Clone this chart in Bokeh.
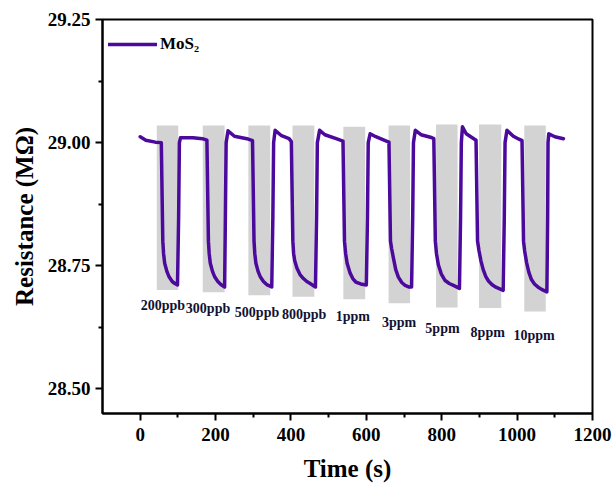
from bokeh.plotting import figure
from bokeh.models import FixedTicker, Range1d, Legend, LegendItem, NumeralTickFormatter
from bokeh.core.properties import value
from bokeh.embed import file_html
from bokeh.resources import INLINE

# ---- data ----
time_s = [0, 15, 40,
          56, 60, 62, 65, 71, 77, 85, 92, 99, 102, 104, 107, 140, 165,
          177, 181, 183, 186, 192, 198, 206, 214, 224, 226, 228, 233, 250, 283,
          298, 302, 304, 307, 313, 319, 327, 337, 349, 352, 354, 358, 375, 395,
          401, 405, 407, 410, 416, 424, 433, 442, 451, 465, 468, 470, 476, 490, 520,
          538, 542, 545, 549, 557, 564, 572, 585, 600, 603, 605, 610, 625, 650,
          660, 664, 667, 672, 678, 685, 694, 703, 712, 720, 723, 725, 730, 745, 770,
          779, 783, 786, 791, 799, 809, 820, 831, 847, 850, 852, 855, 865, 885,
          891, 895, 899, 904, 910, 917, 924, 933, 942, 963, 966, 968, 973, 990, 1005,
          1013, 1017, 1020, 1025, 1031, 1038, 1046, 1055, 1065, 1079, 1081, 1082, 1084, 1100, 1123]
resistance = [29.012, 29.005, 29.001,
              29.000, 28.800, 28.775, 28.755, 28.738, 28.727, 28.718, 28.714, 28.711, 28.850, 29.000, 29.010, 29.010, 29.008,
              29.005, 28.800, 28.775, 28.755, 28.738, 28.727, 28.718, 28.712, 28.707, 28.850, 29.000, 29.024, 29.013, 29.008,
              29.004, 28.800, 28.775, 28.755, 28.738, 28.727, 28.718, 28.711, 28.707, 28.850, 29.000, 29.025, 29.014, 29.008,
              29.002, 28.800, 28.775, 28.760, 28.745, 28.732, 28.724, 28.718, 28.714, 28.707, 28.850, 29.000, 29.025, 29.016, 29.008,
              29.003, 28.800, 28.775, 28.755, 28.735, 28.724, 28.717, 28.713, 28.711, 28.850, 29.000, 29.018, 29.012, 29.004,
              29.001, 28.800, 28.785, 28.765, 28.742, 28.727, 28.716, 28.710, 28.707, 28.707, 28.850, 29.000, 29.025, 29.016, 29.011,
              29.008, 28.800, 28.775, 28.752, 28.733, 28.720, 28.714, 28.710, 28.704, 28.850, 29.000, 29.032, 29.018, 29.008,
              29.005, 28.800, 28.780, 28.760, 28.742, 28.728, 28.719, 28.712, 28.707, 28.700, 28.850, 29.000, 29.025, 29.013, 29.007,
              29.004, 28.800, 28.780, 28.757, 28.737, 28.722, 28.713, 28.707, 28.702, 28.697, 28.850, 29.000, 29.018, 29.012, 29.008]

bar_start = [44, 166, 287, 404, 539, 659, 785, 899, 1019]
bar_end = [101, 224, 345, 462, 597, 716, 842, 958, 1076]
bar_top = [29.035, 29.035, 29.035, 29.035, 29.032, 29.035, 29.037, 29.037, 29.035]
bar_bottom = [28.701, 28.696, 28.690, 28.687, 28.682, 28.674, 28.665, 28.664, 28.657]

conc_labels = ["200ppb", "300ppb", "500ppb", "800ppb", "1ppm", "3ppm", "5ppm", "8ppm", "10ppm"]
label_x = [60, 180, 310, 435, 564, 687, 802, 922, 1045]
label_y = [28.670, 28.664, 28.656, 28.651, 28.646, 28.634, 28.623, 28.614, 28.609]

x_ticks = [0, 200, 400, 600, 800, 1000, 1200]
x_minor = [100, 300, 500, 700, 900, 1100]
y_ticks = [28.50, 28.75, 29.00, 29.25]
y_minor = [28.625, 28.875, 29.125]

SERIF = "Liberation Serif"
PURPLE = "#4b0a9b"

p = figure(width=616, height=493, output_backend="svg", toolbar_location=None,
           x_range=Range1d(-100, 1200), y_range=Range1d(28.45, 29.25),
           min_border_left=102, min_border_right=24, min_border_top=19, min_border_bottom=80)
p.xgrid.visible = False
p.ygrid.visible = False
p.outline_line_color = "black"
p.outline_line_width = 2
p.background_fill_color = "white"
p.border_fill_color = "white"

p.quad(left=bar_start, right=bar_end, top=bar_top, bottom=bar_bottom,
       fill_color="#d3d3d3", line_color=None)

line = p.line(time_s, resistance, line_color=PURPLE, line_width=3.5, line_join="round", line_cap="round")

p.text(x=label_x, y=label_y, text=conc_labels, text_font=value(SERIF), text_font_style="bold",
       text_font_size="14px", text_align="center", text_baseline="middle", text_color="#111133")

for ax in (p.xaxis[0], p.yaxis[0]):
    ax.axis_line_width = 2
    ax.major_tick_line_width = 2
    ax.minor_tick_line_width = 2
    ax.major_tick_out = 7
    ax.major_tick_in = 0
    ax.minor_tick_out = 4
    ax.minor_tick_in = 0
    ax.major_label_text_font = SERIF
    ax.major_label_text_font_style = "bold"
    ax.major_label_text_font_size = "19px"
    ax.major_label_text_color = "black"
    ax.axis_label_text_font = SERIF
    ax.axis_label_text_font_style = "bold"
    ax.axis_label_text_font_size = "25px"
    ax.axis_label_text_color = "black"

p.xaxis[0].ticker = FixedTicker(ticks=x_ticks, minor_ticks=x_minor)
p.yaxis[0].ticker = FixedTicker(ticks=y_ticks, minor_ticks=y_minor)
p.yaxis[0].formatter = NumeralTickFormatter(format="0.00")
p.xaxis[0].axis_label = "Time (s)"
p.yaxis[0].axis_label = "Resistance (MΩ)"
p.xaxis[0].major_label_standoff = 7
p.yaxis[0].major_label_standoff = 5
p.xaxis[0].axis_label_standoff = 11
p.yaxis[0].axis_label_standoff = 7

legend = Legend(items=[LegendItem(label="MoS₂", renderers=[line])],
                location=(6, 359), padding=0, margin=0, spacing=0,
                glyph_width=49, glyph_height=20, label_standoff=3,
                label_text_font=SERIF, label_text_font_style="bold",
                label_text_font_size="17px", label_text_color="black",
                border_line_alpha=0, background_fill_alpha=0)
p.add_layout(legend)

open("out.html", "w").write(file_html(p, INLINE))
